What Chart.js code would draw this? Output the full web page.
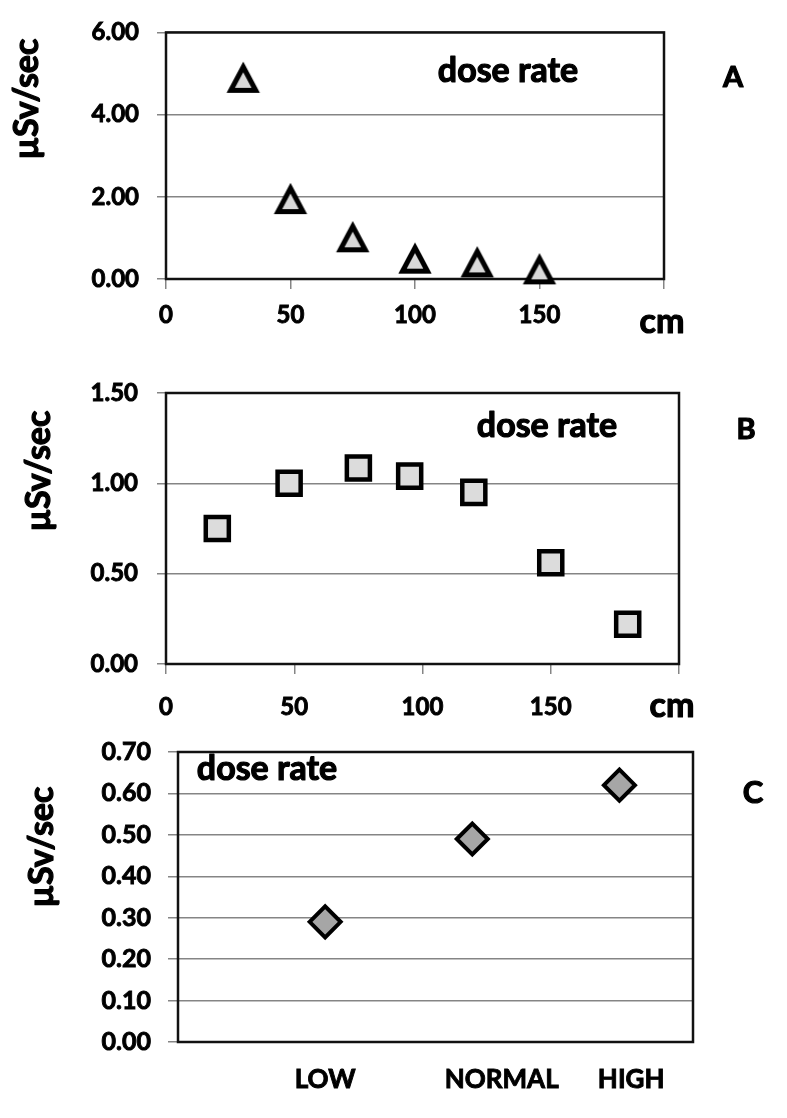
<!DOCTYPE html>
<html>
<head>
<meta charset="utf-8">
<script src="https://cdn.jsdelivr.net/npm/chart.js@4"></script>
<style>
  body { margin: 0; background: #fff; }
  .panneau { position: absolute; left: 0; }
</style>
</head>
<body>
<canvas id="chartA" class="panneau" width="787" height="345" style="top:0"></canvas>
<canvas id="chartB" class="panneau" width="787" height="380" style="top:350px"></canvas>
<canvas id="chartC" class="panneau" width="787" height="398" style="top:720px"></canvas>
<script>
// A : débit de dose selon la distance
const distA = [31, 50, 75, 100, 125, 150];
const doseA = [4.87, 1.92, 0.99, 0.47, 0.38, 0.21];
const yTicksA = [0, 2, 4, 6];

// B
const distB = [20, 48, 75, 95, 120, 150, 180];
const doseB = [0.75, 1.0, 1.085, 1.04, 0.95, 0.56, 0.22];
const yTicksB = [0, 0.5, 1.0, 1.5];

const xTicksCm = [0, 50, 100, 150, 200];

// C : par niveau
const niveaux = ['LOW', 'NORMAL', 'HIGH'];
const posNiveaux = [1, 2, 3];
const posLabelsNiveaux = [1, 2.2, 3.08];
const doseC = [0.29, 0.49, 0.62];
const yTicksC = [0, 0.1, 0.2, 0.3, 0.4, 0.5, 0.6, 0.7];

const police = 'Lato';
Chart.defaults.font.family = police;
Chart.defaults.font.weight = 'bold';
Chart.defaults.color = '#000';
Chart.defaults.animation = false;

const gris = '#858585';

// textes libres (dose rate, lettres, cm, titre de l'axe)
const textes = {
    id: 'textes',
    afterDraw(chart, args, opts) {
        const ctx = chart.ctx;
        (opts.items || []).forEach(t => {
            ctx.save();
            ctx.font = `bold ${t.size}px ${police}`;
            ctx.fillStyle = '#000';
            ctx.strokeStyle = '#000';
            ctx.lineWidth = 1.2;
            ctx.lineJoin = 'round';
            ctx.textAlign = 'center';
            ctx.textBaseline = 'alphabetic';
            ctx.translate(t.x, t.y);
            if (t.rot) ctx.rotate(-Math.PI / 2);
            ctx.fillText(t.text, 0, 0);
            ctx.strokeText(t.text, 0, 0);
            ctx.restore();
        });
    }
};

// cadre noir autour de la zone du graphique
const cadre = {
    id: 'cadre',
    beforeDatasetsDraw(chart) {
        const { ctx, chartArea: a } = chart;
        ctx.save();
        ctx.strokeStyle = '#111';
        ctx.lineWidth = 2.5;
        ctx.strokeRect(a.left, a.top, a.right - a.left, a.bottom - a.top);
        ctx.restore();
    }
};

function triangleMarker() {
    const c = document.createElement('canvas');
    c.width = 40;
    c.height = 40;
    const g = c.getContext('2d');
    g.beginPath();
    g.moveTo(20, 8);
    g.lineTo(32.5, 31.5);
    g.lineTo(7.5, 31.5);
    g.closePath();
    g.fillStyle = '#d9d9d9';
    g.fill();
    g.lineWidth = 5;
    g.lineJoin = 'miter';
    g.miterLimit = 3;
    g.strokeStyle = '#000';
    g.stroke();
    return c;
}

function axeY(min, max, valeurs, largeur, tickLen, pad, taille) {
    return {
        min, max,
        afterBuildTicks: s => { s.ticks = valeurs.map(v => ({ value: v })); },
        afterFit: s => { s.width = largeur; },
        grid: { color: gris, lineWidth: 1.5, tickLength: tickLen },
        border: { display: false },
        ticks: { padding: pad, font: { size: taille }, textStrokeColor: '#000', textStrokeWidth: 0.9,
                 callback: v => v.toFixed(2) }
    };
}

function axeCm(hauteur, pad) {
    return {
        type: 'linear', min: 0, max: 200,
        afterBuildTicks: s => { s.ticks = xTicksCm.map(v => ({ value: v })); },
        afterFit: s => { s.height = hauteur; },
        grid: { drawOnChartArea: false, color: gris, lineWidth: 1.5, tickLength: 10 },
        border: { display: false },
        ticks: { padding: pad, font: { size: 24 }, maxRotation: 0, autoSkip: false,
                 textStrokeColor: '#000', textStrokeWidth: 0.9,
                 callback: v => (v === 200 ? '' : v) }
    };
}

function points(xs, ys) {
    return xs.map((x, i) => ({ x, y: ys[i] }));
}

new Chart(document.getElementById('chartA'), {
    type: 'scatter',
    data: {
        datasets: [{
            data: points(distA, doseA),
            pointStyle: triangleMarker(),
            pointRadius: 16,
            clip: false
        }]
    },
    options: {
        responsive: false,
        events: [],
        layout: { padding: { top: 24, right: 123, left: 0, bottom: 0 } },
        scales: {
            x: axeCm(66, 12),
            y: axeY(0, 6, yTicksA, 166, 9, 18, 24)
        },
        plugins: {
            legend: { display: false },
            tooltip: { enabled: false },
            textes: { items: [
                { text: 'dose rate', x: 508, y: 82, size: 34 },
                { text: 'A', x: 733, y: 87, size: 29 },
                { text: 'cm', x: 662, y: 333, size: 34 },
                { text: 'µSv/sec', x: 38, y: 99, size: 34, rot: true }
            ] }
        }
    },
    plugins: [cadre, textes]
});

new Chart(document.getElementById('chartB'), {
    type: 'scatter',
    data: {
        datasets: [{
            data: points(distB, doseB),
            pointStyle: 'rect',
            pointRadius: 16.3,
            pointBorderWidth: 4.5,
            backgroundColor: '#dcdcdc',
            borderColor: '#000',
            clip: false
        }]
    },
    options: {
        responsive: false,
        events: [],
        layout: { padding: { top: 43, right: 108, left: 0, bottom: 0 } },
        scales: {
            x: axeCm(66, 19),
            y: axeY(0, 1.5, yTicksB, 166, 9, 19, 24)
        },
        plugins: {
            legend: { display: false },
            tooltip: { enabled: false },
            textes: { items: [
                { text: 'dose rate', x: 547, y: 87, size: 34 },
                { text: 'B', x: 746, y: 89, size: 29 },
                { text: 'cm', x: 672, y: 367, size: 34 },
                { text: 'µSv/sec', x: 50, y: 121, size: 34, rot: true }
            ] }
        }
    },
    plugins: [cadre, textes]
});

new Chart(document.getElementById('chartC'), {
    type: 'scatter',
    data: {
        datasets: [{
            data: points(posNiveaux, doseC),
            pointStyle: 'rectRot',
            pointRadius: 15.5,
            pointBorderWidth: 4,
            backgroundColor: '#a6a6a6',
            borderColor: '#000',
            clip: false
        }]
    },
    options: {
        responsive: false,
        events: [],
        layout: { padding: { top: 24, right: 94, left: 0, bottom: 0 } },
        scales: {
            x: {
                type: 'linear', min: 0, max: 3.5,
                afterBuildTicks: s => { s.ticks = posLabelsNiveaux.map(v => ({ value: v })); },
                afterFit: s => { s.height = 76; },
                grid: { display: false },
                border: { display: false },
                ticks: { padding: 14, font: { size: 26 }, maxRotation: 0, autoSkip: false,
                         textStrokeColor: '#000', textStrokeWidth: 0.9,
                         callback: (v, i) => niveaux[i] }
            },
            y: axeY(0, 0.7, yTicksC, 178, 10, 17, 25)
        },
        plugins: {
            legend: { display: false },
            tooltip: { enabled: false },
            textes: { items: [
                { text: 'dose rate', x: 267, y: 60, size: 34 },
                { text: 'C', x: 753, y: 83, size: 31 },
                { text: 'µSv/sec', x: 53, y: 127, size: 34, rot: true }
            ] }
        }
    },
    plugins: [cadre, textes]
});
</script>
</body>
</html>
